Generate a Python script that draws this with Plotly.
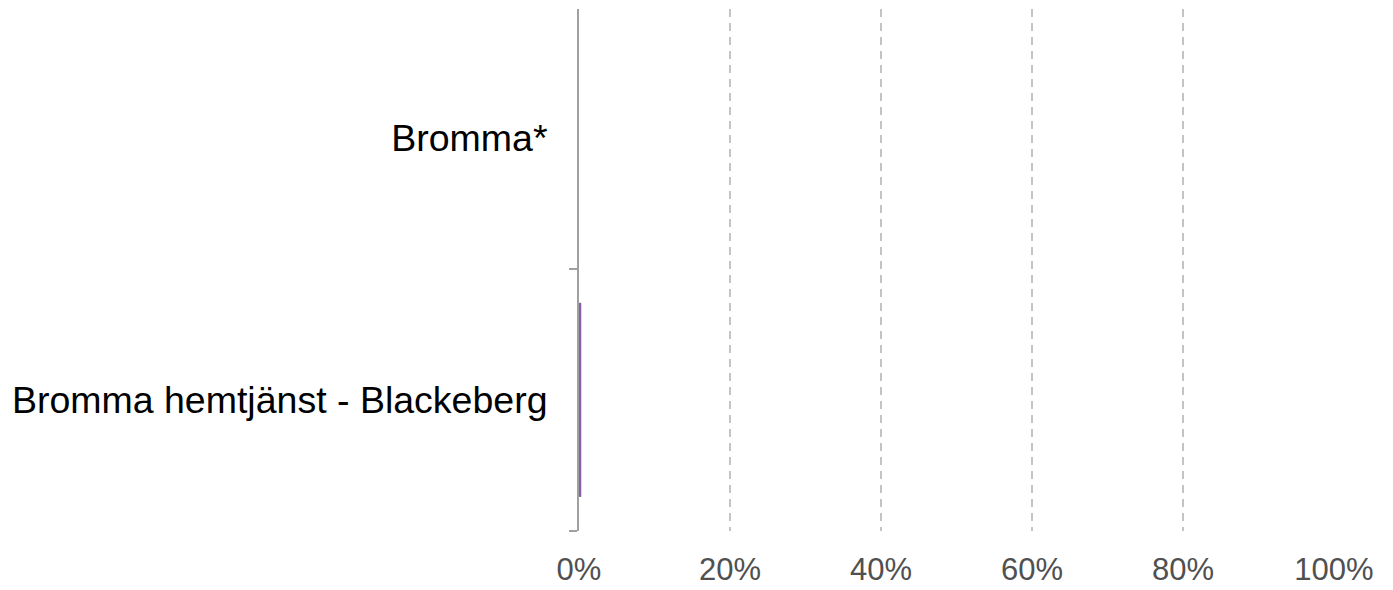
import plotly.graph_objects as go

categories = ["Bromma hemtjänst - Blackeberg", "Bromma*"]
values = [0.3, None]
x_tickvals = [0, 20, 40, 60, 80, 100]
x_ticktext = ["0%", "20%", "40%", "60%", "80%", "100%"]

fig = go.Figure()
fig.add_trace(go.Bar(
    x=values, y=categories, orientation="h",
    marker=dict(color="#8b5ea6", line=dict(width=0)),
    hoverinfo="skip",
))

fig.update_layout(
    width=1393, height=590,
    margin=dict(l=579, r=59, t=9, b=59, autoexpand=False),
    plot_bgcolor="white", paper_bgcolor="white",
    bargap=0.26,
    showlegend=False,
    font=dict(family="Liberation Sans, Arial, sans-serif"),
)
fig.update_xaxes(
    range=[0, 100], automargin=False,
    tickvals=x_tickvals, ticktext=x_ticktext,
    showgrid=True, gridcolor="#c4c4c4", griddash="8px,6px", gridwidth=1.5,
    zeroline=False, showline=False, ticks="",
    tickfont=dict(size=31, color="#505050"),
    ticklabelstandoff=17,
)
fig.update_yaxes(
    categoryorder="array", categoryarray=categories,
    range=[-0.5, 1.49], automargin=False,
    showline=True, linecolor="#a0a0a0", linewidth=2, layer="below traces",
    ticks="outside", tickson="boundaries", ticklen=8, tickwidth=2, tickcolor="#a0a0a0",
    showgrid=False, zeroline=False,
    tickfont=dict(size=37.5, color="#000000"),
    ticklabelstandoff=22,
)

fig.write_html(
    "out.html",
    config={"displayModeBar": False, "staticPlot": True},
    post_script="document.body.style.margin='0';document.body.style.overflow='hidden';",
)
